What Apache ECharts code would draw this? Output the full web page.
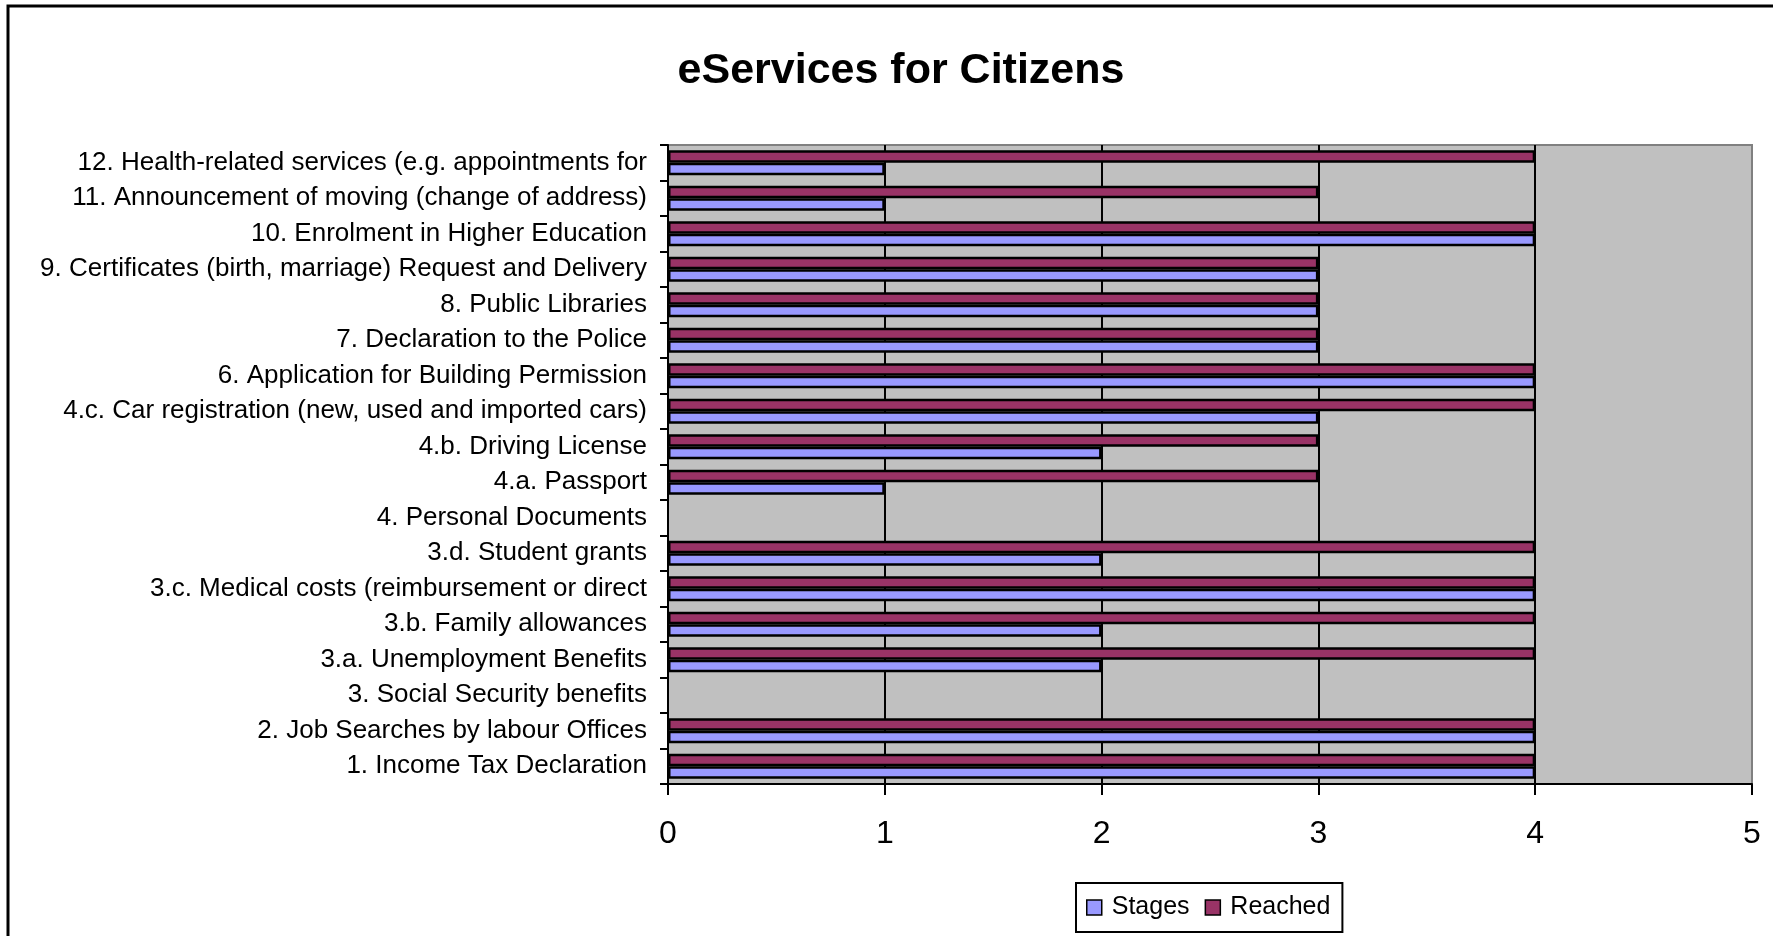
<!DOCTYPE html>
<html lang="en">

<head>
  <meta charset="UTF-8">
  <title>eServices for Citizens</title>
  <style>
    html, body { margin: 0; padding: 0; background: #fff; }
  </style>
</head>

<body>
  <div id="main" style="width: 1773px;height:936px;"></div>

  <script src="https://cdn.jsdelivr.net/npm/echarts@6/dist/echarts.min.js"></script>
  <script>
    // categories, bottom to top (as ECharts draws a category y axis)
    let categories = [
      '1. Income Tax Declaration',
      '2. Job Searches by labour Offices',
      '3. Social Security benefits',
      '3.a. Unemployment Benefits',
      '3.b. Family allowances',
      '3.c. Medical costs (reimbursement or direct',
      '3.d. Student grants',
      '4. Personal Documents',
      '4.a. Passport',
      '4.b. Driving License',
      '4.c. Car registration (new, used and imported cars)',
      '6. Application for Building Permission',
      '7. Declaration to the Police',
      '8. Public Libraries',
      '9. Certificates (birth, marriage) Request and Delivery',
      '10. Enrolment in Higher Education',
      '11. Announcement of moving (change of address)',
      '12. Health-related services (e.g. appointments for'
    ];
    let stages = [4, 4, null, 2, 2, 4, 2, null, 1, 2, 3, 4, 3, 3, 3, 4, 1, 1];
    let reached = [4, 4, null, 4, 4, 4, 4, null, 3, 3, 4, 4, 3, 3, 3, 4, 3, 4];
    let xTicks = [0, 5, 1]; // min, max, interval

    let font = '"Liberation Sans", Arial, sans-serif';

    let chart = echarts.init(document.getElementById('main'));
    let option = {
      backgroundColor: '#fff',
      animation: false,
      title: {
        text: 'eServices for Citizens',
        left: 896,
        top: 45,
        textAlign: 'center',
        textStyle: {
          fontFamily: font,
          fontSize: 43,
          fontWeight: 'bold',
          color: '#000'
        }
      },
      graphic: [{
        type: 'rect',
        shape: { x: 8, y: 6, width: 1800, height: 1000 },
        style: { fill: null, stroke: '#000', lineWidth: 3 },
        silent: true
      }],
      legend: {
        left: 1076,
        top: 883,
        orient: 'horizontal',
        borderColor: '#000',
        borderWidth: 2,
        padding: [12, 12, 12, 10],
        itemWidth: 15,
        itemHeight: 15,
        itemGap: 15,
        icon: 'rect',
        itemStyle: { borderColor: '#000', borderWidth: 1.5 },
        textStyle: {
          fontFamily: font,
          fontSize: 25,
          color: '#000',
          padding: [0, 0, 0, 5]
        },
        data: ['Stages', 'Reached']
      },
      grid: {
        left: 668,
        top: 145,
        width: 1084,
        height: 639,
        show: true,
        backgroundColor: '#C0C0C0',
        borderColor: '#808080',
        borderWidth: 2
      },
      xAxis: {
        type: 'value',
        min: xTicks[0],
        max: xTicks[1],
        interval: xTicks[2],
        axisLine: { show: true, lineStyle: { color: '#000', width: 2 } },
        axisTick: { show: true, length: 11, lineStyle: { color: '#000', width: 2 } },
        axisLabel: {
          margin: 34,
          fontFamily: font,
          fontSize: 32,
          color: '#000'
        },
        splitLine: {
          show: true,
          showMinLine: false,
          showMaxLine: false,
          lineStyle: { color: '#000', width: 2 }
        }
      },
      yAxis: {
        type: 'category',
        data: categories,
        axisLine: { show: true, lineStyle: { color: '#000', width: 2 } },
        axisTick: { show: true, length: 8, lineStyle: { color: '#000', width: 2 } },
        axisLabel: {
          margin: 21,
          fontFamily: font,
          fontSize: 26,
          color: '#000'
        },
        splitLine: { show: false }
      },
      // Reached first so it sits on top of Stages inside each row
      series: [{
        name: 'Reached',
        type: 'bar',
        data: reached,
        barGap: '0%',
        barCategoryGap: '30%',
        itemStyle: { color: '#993366', borderColor: '#000', borderWidth: 2.5 }
      }, {
        name: 'Stages',
        type: 'bar',
        data: stages,
        barGap: '0%',
        barCategoryGap: '30%',
        itemStyle: { color: '#9999FF', borderColor: '#000', borderWidth: 2.5 }
      }]
    };
    chart.setOption(option);
  </script>
</body>

</html>
